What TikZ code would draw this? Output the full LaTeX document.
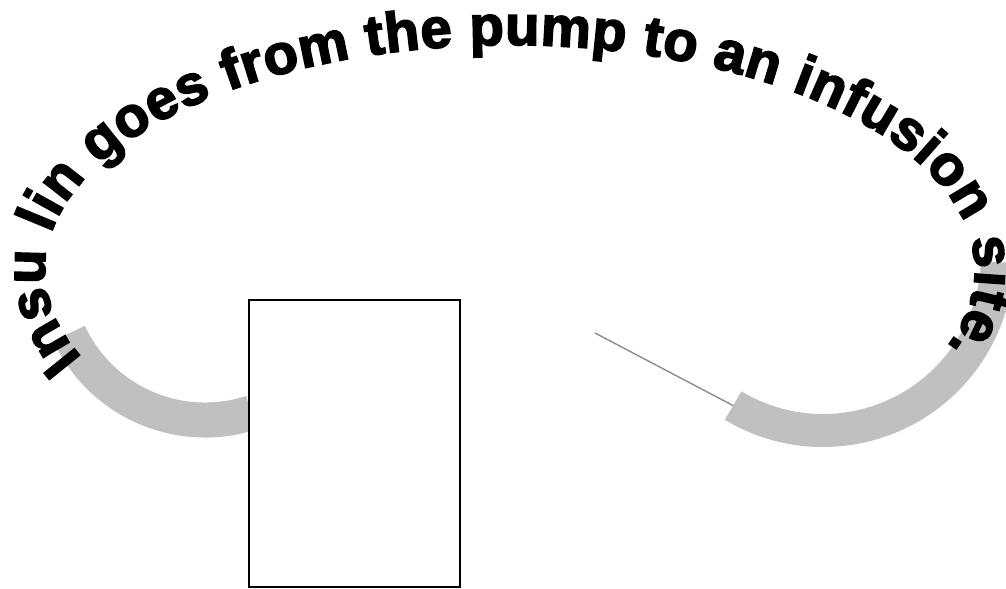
\documentclass[tikz,border=0pt]{standalone}
\usepackage{fontspec}
\newfontfamily\archfont{Liberation Sans Bold}[FakeBold=3]
\usepackage{xcolor}
\definecolor{tubeGray}{RGB}{192,192,192}
\definecolor{needleGray}{RGB}{140,140,140}
\usetikzlibrary{calc,positioning,decorations.text}

\begin{document}
\begin{tikzpicture}[
        tube/.style={draw=tubeGray, line width=0.7cm},
        pumpbox/.style={draw=black, fill=white, line width=1.1pt,
          minimum width=4.22cm, minimum height=5.74cm, inner sep=0pt},
        needle/.style={draw=needleGray, line width=0.8pt}
      ]
        \useasboundingbox (0,0) rectangle (20.12,11.78);

        % tubing on both sides
        \coordinate (lcenter) at (4.1,6.38);
        \coordinate (rcenter) at (16.46,6.66);
        \draw[tube] ($(lcenter)+(205:3)$) arc[start angle=205, end angle=288, radius=3];
        \draw[tube, line width=0.66cm] ($(rcenter)+(239:3.49)$) coordinate (site)
          arc[start angle=239, end angle=358, radius=3.49];

        % pump and needle
        \node[pumpbox] (pump) at (7.09,2.91) {};
        \coordinate (tip) at (11.9,5.12);
        \draw[needle] (tip) -- (site);

        % arched caption
        \coordinate (archc) at (10.2,6.38);
        \path[decorate, decoration={text along path, text align={fit to path},
            text={|\archfont\fontsize{32}{36}\selectfont|Insu lin goes from the pump to an infusion site.}}]
          ($(archc)+(203:9.3 and 4.5)$) arc[start angle=203, end angle=-20, x radius=9.3, y radius=4.5];
      \end{tikzpicture}
\end{document}
